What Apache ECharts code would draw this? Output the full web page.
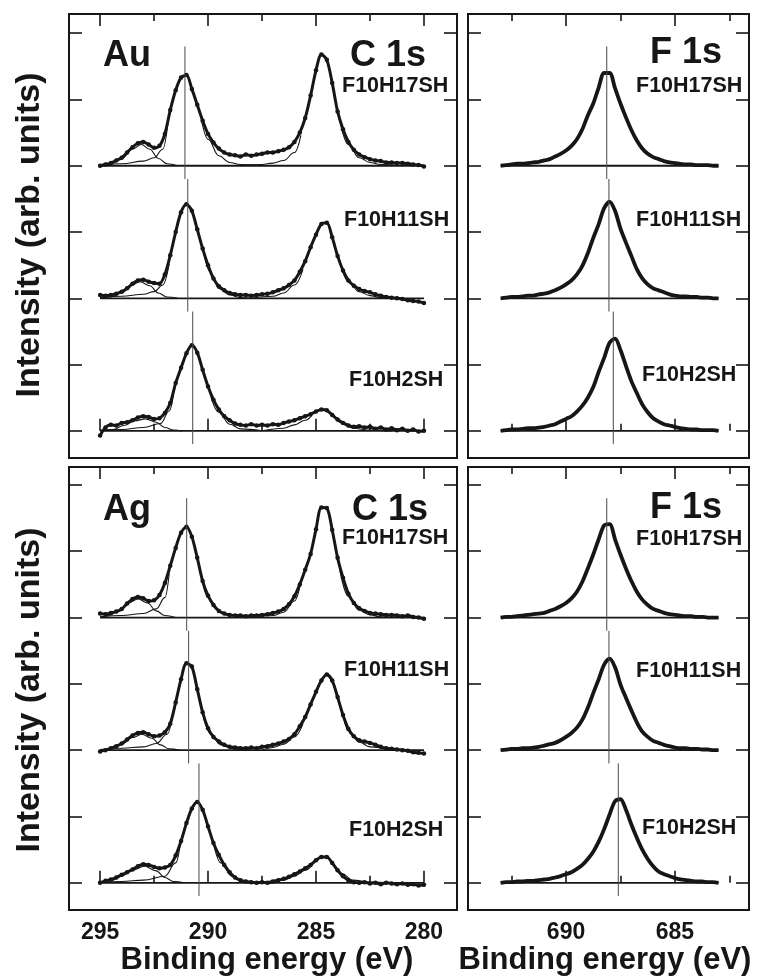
<!DOCTYPE html>
<html>
<head>
<meta charset="utf-8">
<title>XPS C 1s / F 1s</title>
<script src="https://cdn.jsdelivr.net/npm/echarts@6/dist/echarts.min.js"></script>
<style>
    html, body { margin: 0; padding: 0; background: #fff; }
    #main { width: 761px; height: 979px; }
</style>
</head>
<body>
<div id="main"></div>
<script>
    const FONT = "'Liberation Sans', Arial, Helvetica, sans-serif";
    const INK = '#161616';

    // energy grids (eV), one value every 0.25 eV
    const cStart = 295, fStart = 693, step = 0.25;
    const cEnergy = Array.from({length: 61}, (_, i) => +(cStart - i * step).toFixed(2));
    const fEnergy = Array.from({length: 41}, (_, i) => +(fStart - i * step).toFixed(2));

    const offsets = [4, 2, 0];                    // vertical stacking of the three samples
    const sampleNames = ['F10H17SH', 'F10H11SH', 'F10H2SH'];

    // tick values
    const cMajor = [295, 290, 285, 280], cMinor = [292.5, 287.5, 282.5];
    const fMajor = [690, 685], fMinor = [692.5, 687.5, 682.5];
    const yTicks = [0, 1, 2, 3, 4, 5, 6];

    // ---- Au, C 1s (295 -> 280 eV)
    const auC17 = [0.00,0.02,0.04,0.08,0.12,0.20,0.28,0.34,0.36,0.32,
                   0.27,0.30,0.48,0.84,1.14,1.33,1.37,1.16,0.92,0.68,
                   0.48,0.35,0.26,0.20,0.17,0.16,0.14,0.17,0.15,0.17,
                   0.18,0.20,0.20,0.22,0.24,0.28,0.36,0.50,0.72,1.06,
                   1.44,1.68,1.60,1.25,0.82,0.55,0.36,0.24,0.17,0.13,
                   0.10,0.08,0.07,0.05,0.05,0.04,0.04,0.03,0.02,0.01,-0.01];
    const auC11 = [0.05,0.04,0.05,0.07,0.10,0.15,0.22,0.27,0.28,0.25,
                   0.23,0.22,0.36,0.65,1.00,1.30,1.42,1.32,1.04,0.75,
                   0.50,0.30,0.18,0.12,0.08,0.06,0.05,0.05,0.04,0.05,
                   0.06,0.07,0.09,0.12,0.15,0.20,0.27,0.40,0.56,0.77,
                   0.96,1.12,1.14,0.92,0.64,0.42,0.27,0.19,0.14,0.11,
                   0.09,0.06,0.04,0.02,0.01,0.00,-0.01,-0.03,-0.04,-0.05,-0.07];
    const auC2 = [-0.07,0.05,0.09,0.08,0.12,0.13,0.16,0.20,0.22,0.21,
                  0.18,0.19,0.27,0.42,0.72,0.95,1.17,1.29,1.18,0.92,
                  0.67,0.47,0.32,0.22,0.16,0.11,0.09,0.08,0.10,0.08,
                  0.09,0.08,0.10,0.09,0.12,0.14,0.16,0.19,0.22,0.25,
                  0.29,0.32,0.31,0.24,0.17,0.12,0.08,0.06,0.07,0.05,
                  0.06,0.03,0.05,0.02,0.04,0.01,0.03,0.00,0.02,-0.01,0.00];
    // fitted components [eV, intensity]: CF3 hump, CF2 tails, CH2 tails
    const auC17Fit = [
        [[295,0],[294.5,0.03],[294,0.11],[293.5,0.25],[293.1,0.32],[292.7,0.25],[292.3,0.11],[291.9,0.03],[291.4,0]],
        [[295,0.01],[294,0.03],[293,0.07],[292.5,0.12],[292.1,0.25],[291.85,0.66]],
        [[290.3,0.68],[290,0.4],[289.5,0.15],[289,0.05],[288.5,0.02],[287.5,0]],
        [[288.5,0],[287.5,0.02],[287,0.04],[286.5,0.08],[286,0.2],[285.7,0.46]],
        [[283.9,0.68],[283.5,0.32],[283,0.12],[282.5,0.05],[282,0.02],[281,0]]
    ];
    const auC11Fit = [
        [[295,0],[294.5,0.02],[294,0.08],[293.6,0.19],[293.15,0.25],[292.7,0.19],[292.3,0.08],[291.9,0.02],[291.4,0]],
        [[295,0.01],[294,0.03],[293,0.06],[292.5,0.1],[292.1,0.2],[291.8,0.52]],
        [[290.2,0.68],[289.9,0.4],[289.5,0.15],[289,0.05],[288.5,0.01],[288,0]],
        [[288,0],[287,0.03],[286.5,0.08],[286,0.2],[285.6,0.44]],
        [[283.8,0.44],[283.5,0.25],[283,0.1],[282.5,0.04],[282,0.01],[281,0]]
    ];
    const auC2Fit = [
        [[295,0],[294.4,0.02],[293.9,0.08],[293.4,0.15],[292.9,0.18],[292.4,0.13],[292,0.05],[291.6,0.01],[291.2,0]],
        [[295,0.01],[294,0.02],[293,0.05],[292.2,0.11],[291.8,0.3],[291.6,0.55]],
        [[289.9,0.55],[289.5,0.28],[289,0.1],[288.5,0.03],[287.5,0]],
        [[287.5,0],[286.5,0.04],[286,0.09],[285.5,0.16],[285.2,0.23]],
        [[284.1,0.2],[283.8,0.12],[283.3,0.04],[282.5,0.01],[281.5,0]]
    ];

    // ---- Ag, C 1s
    const agC17 = [0.06,0.05,0.07,0.09,0.13,0.21,0.28,0.31,0.29,0.25,
                   0.26,0.34,0.52,0.78,1.05,1.28,1.37,1.22,0.90,0.55,
                   0.33,0.19,0.10,0.06,0.04,0.03,0.03,0.02,0.03,0.03,
                   0.04,0.05,0.07,0.09,0.13,0.20,0.32,0.50,0.72,0.96,
                   1.33,1.66,1.65,1.32,0.90,0.60,0.36,0.22,0.14,0.10,
                   0.07,0.06,0.05,0.04,0.04,0.03,0.02,0.03,0.01,0.00,-0.02];
    const agC11 = [-0.02,0.00,0.03,0.06,0.10,0.16,0.22,0.26,0.27,0.24,
                   0.21,0.22,0.27,0.40,0.72,1.07,1.31,1.26,0.92,0.57,
                   0.33,0.20,0.13,0.08,0.05,0.04,0.03,0.03,0.04,0.03,
                   0.05,0.06,0.08,0.10,0.13,0.17,0.24,0.36,0.50,0.69,
                   0.88,1.05,1.14,1.05,0.80,0.53,0.32,0.21,0.15,0.13,
                   0.11,0.08,0.05,0.03,0.02,0.01,0.00,-0.01,-0.03,-0.04,-0.05];
    const agC2 = [0.00,0.03,0.05,0.08,0.12,0.16,0.20,0.25,0.28,0.27,
                  0.24,0.22,0.23,0.27,0.41,0.63,0.90,1.12,1.22,1.10,
                  0.85,0.60,0.42,0.27,0.16,0.08,0.04,0.02,0.01,0.00,
                  0.01,0.00,0.02,0.04,0.06,0.09,0.13,0.17,0.22,0.27,
                  0.34,0.39,0.39,0.30,0.19,0.10,0.04,0.01,0.00,0.01,
                  -0.01,0.00,-0.02,0.00,-0.01,-0.02,-0.01,-0.03,-0.02,-0.04,-0.03];
    const agC17Fit = [
        [[295,0],[294.6,0.03],[294.1,0.11],[293.7,0.22],[293.24,0.28],[292.8,0.22],[292.4,0.1],[292,0.03],[291.5,0]],
        [[295,0.01],[294,0.03],[293,0.06],[292.4,0.13],[292,0.3],[291.8,0.66]],
        [[290.3,0.6],[290,0.3],[289.6,0.12],[289,0.03],[288,0]],
        [[288,0],[287,0.03],[286.5,0.08],[286,0.25],[285.75,0.46]],
        [[283.9,0.72],[283.5,0.32],[283,0.11],[282.5,0.04],[282,0.01],[281,0]]
    ];
    const agC11Fit = [
        [[295,0],[294.5,0.02],[294,0.09],[293.5,0.19],[293.07,0.24],[292.6,0.18],[292.2,0.08],[291.8,0.02],[291.3,0]],
        [[295,0.01],[294,0.03],[293,0.05],[292.4,0.1],[291.9,0.24],[291.65,0.5]],
        [[290.2,0.48],[289.9,0.26],[289.4,0.08],[288.8,0.02],[288,0]],
        [[287.5,0],[287,0.04],[286.5,0.09],[286,0.2],[285.6,0.4]],
        [[283.7,0.45],[283.5,0.3],[283,0.12],[282.5,0.05],[281.5,0]]
    ];
    const agC2Fit = [
        [[295,0],[294.5,0.03],[294,0.1],[293.5,0.19],[292.95,0.25],[292.4,0.18],[292,0.08],[291.6,0.02],[291.1,0]],
        [[295,0.01],[294,0.02],[293,0.04],[292,0.1],[291.5,0.3],[291.3,0.55]],
        [[289.7,0.52],[289.4,0.3],[288.9,0.1],[288.3,0.02],[287.5,0]],
        [[287.5,0],[286.5,0.04],[286,0.1],[285.5,0.19],[285.2,0.26]],
        [[284.1,0.22],[283.8,0.14],[283.3,0.04],[282.5,0.01],[281.5,0]]
    ];

    // ---- F 1s (693 -> 683 eV)
    const auF17 = [0.00,0.01,0.02,0.03,0.03,0.04,0.05,0.06,0.08,0.10,
                   0.14,0.18,0.23,0.30,0.40,0.55,0.76,0.94,1.18,1.40,
                   1.40,1.17,0.94,0.73,0.54,0.38,0.26,0.18,0.13,0.10,
                   0.07,0.05,0.04,0.03,0.02,0.02,0.01,0.01,0.01,0.00,0.00];
    const auF11 = [0.00,0.01,0.02,0.02,0.03,0.04,0.04,0.06,0.07,0.09,
                   0.12,0.16,0.21,0.27,0.36,0.49,0.68,0.91,1.12,1.36,
                   1.46,1.32,1.05,0.84,0.64,0.44,0.30,0.21,0.15,0.12,
                   0.09,0.06,0.04,0.03,0.03,0.02,0.02,0.01,0.01,0.00,0.00];
    const auF2 = [0.00,0.01,0.02,0.02,0.03,0.04,0.04,0.05,0.06,0.08,
                  0.10,0.14,0.18,0.22,0.29,0.38,0.50,0.66,0.89,1.10,
                  1.33,1.39,1.22,0.98,0.75,0.57,0.40,0.28,0.19,0.14,
                  0.10,0.08,0.06,0.04,0.03,0.02,0.02,0.01,0.01,0.01,0.00];
    const agF17 = [0.00,0.01,0.01,0.02,0.03,0.04,0.05,0.06,0.07,0.10,
                   0.13,0.17,0.22,0.29,0.39,0.54,0.74,0.95,1.18,1.39,
                   1.41,1.18,0.95,0.74,0.55,0.39,0.27,0.19,0.13,0.10,
                   0.07,0.05,0.04,0.03,0.02,0.02,0.01,0.01,0.00,0.00,0.00];
    const agF11 = [0.00,0.01,0.02,0.02,0.03,0.03,0.04,0.05,0.07,0.09,
                   0.11,0.15,0.20,0.26,0.34,0.46,0.64,0.86,1.07,1.29,
                   1.38,1.25,0.99,0.79,0.60,0.42,0.28,0.20,0.14,0.11,
                   0.08,0.06,0.04,0.03,0.03,0.02,0.02,0.01,0.01,0.00,0.00];
    const agF2 = [0.00,0.01,0.01,0.02,0.02,0.03,0.03,0.04,0.05,0.06,
                  0.08,0.10,0.13,0.16,0.21,0.27,0.36,0.47,0.62,0.81,
                  1.03,1.23,1.26,1.10,0.88,0.68,0.50,0.36,0.25,0.17,
                  0.13,0.10,0.07,0.05,0.04,0.03,0.02,0.02,0.01,0.01,0.00];

    // peak reference lines (eV)
    const auCPeak = [291.07, 290.94, 290.71];
    const agCPeak = [290.99, 290.90, 290.42];
    const auFPeak = [688.13, 688.03, 687.83];
    const agFPeak = [688.13, 688.03, 687.60];

    // ---- layout: four framed panels
    const grids = [
        {left: 69,  top: 14,  width: 388, height: 444},
        {left: 468, top: 14,  width: 281, height: 444},
        {left: 69,  top: 467, width: 388, height: 443},
        {left: 468, top: 467, width: 281, height: 443}
    ];
    const xRange = [[278.47, 296.44], [681.6, 694.5], [278.47, 296.44], [681.6, 694.5]];
    const yRange = [[-0.41, 6.29], [-0.41, 6.29], [-0.41, 6.27], [-0.41, 6.27]];

    const tickStyle = {color: INK, width: 1.6};

    let xAxes = [], yAxes = [];
    grids.forEach((gr, g) => {
        const isC = g % 2 === 0;
        const major = isC ? cMajor : fMajor, minor = isC ? cMinor : fMinor;
        const base = {
            gridIndex: g, type: 'value', min: xRange[g][0], max: xRange[g][1], inverse: true,
            axisLine: {show: false}, splitLine: {show: false}, axisLabel: {show: false}
        };
        const showLabels = g >= 2;
        xAxes.push(Object.assign({}, base, {
            position: 'bottom',
            axisTick: {inside: true, length: 12, customValues: major, lineStyle: tickStyle},
            axisLabel: {show: showLabels, customValues: major, margin: 11, color: INK,
                fontSize: 23, fontWeight: 'bold', fontFamily: FONT}
        }));
        xAxes.push(Object.assign({}, base, {
            position: 'bottom',
            axisTick: {inside: true, length: 7, customValues: minor, lineStyle: tickStyle}
        }));
        xAxes.push(Object.assign({}, base, {
            position: 'top',
            axisTick: {inside: true, length: 12, customValues: major, lineStyle: tickStyle}
        }));
        xAxes.push(Object.assign({}, base, {
            position: 'top',
            axisTick: {inside: true, length: 7, customValues: minor, lineStyle: tickStyle}
        }));
        ['left', 'right'].forEach(pos => {
            yAxes.push({
                gridIndex: g, type: 'value', position: pos, min: yRange[g][0], max: yRange[g][1],
                axisLine: {show: false}, splitLine: {show: false}, axisLabel: {show: false},
                axisTick: {inside: true, length: 13, customValues: yTicks, lineStyle: tickStyle}
            });
        });
    });

    let series = [];
    function addPanel(g, energy, sets, fits, peaks, isC) {
        const xi = g * 4, yi = g * 2;
        sets.forEach((vals, k) => {
            const off = offsets[k];
            // baseline
            series.push({
                type: 'line', xAxisIndex: xi, yAxisIndex: yi, silent: true, symbol: 'none', z: 2,
                data: [[energy[0], off], [energy[energy.length - 1], off]],
                lineStyle: {color: INK, width: 1.8}
            });
            // fitted components
            (fits ? fits[k] : []).forEach(c => {
                series.push({
                    type: 'line', xAxisIndex: xi, yAxisIndex: yi, silent: true, symbol: 'none', z: 3,
                    smooth: 0.4, smoothMonotone: 'x',
                    data: c.map(p => [p[0], p[1] + off]),
                    lineStyle: {color: INK, width: 1.1}
                });
            });
            // measured spectrum
            series.push({
                name: sampleNames[k], type: 'line', xAxisIndex: xi, yAxisIndex: yi, z: 4,
                smooth: 0.3,
                symbol: isC ? 'circle' : 'none', symbolSize: 4.5,
                itemStyle: {color: INK},
                data: energy.map((e, i) => [e, vals[i] + off]),
                lineStyle: {color: INK, width: isC ? 3 : 3.8}
            });
            // peak position marker
            series.push({
                type: 'line', xAxisIndex: xi, yAxisIndex: yi, silent: true, symbol: 'none', z: 5,
                data: [[peaks[k], off + 1.8], [peaks[k], off - 0.2]],
                lineStyle: {color: '#4a4a4a', width: 1}
            });
        });
    }
    addPanel(0, cEnergy, [auC17, auC11, auC2], [auC17Fit, auC11Fit, auC2Fit], auCPeak, true);
    addPanel(1, fEnergy, [auF17, auF11, auF2], null, auFPeak, false);
    addPanel(2, cEnergy, [agC17, agC11, agC2], [agC17Fit, agC11Fit, agC2Fit], agCPeak, true);
    addPanel(3, fEnergy, [agF17, agF11, agF2], null, agFPeak, false);

    // ---- text
    function txt(text, x, y, size, align, rot) {
        return {
            type: 'text', x: x, y: y, rotation: rot || 0, silent: true, z: 20,
            style: {text: text, fill: INK, font: 'bold ' + size + 'px ' + FONT,
                textAlign: align || 'left', align: align || 'left',
                textVerticalAlign: 'middle', verticalAlign: 'middle'}
        };
    }
    const graphic = [
        txt('Au', 103, 56, 36), txt('C 1s', 350, 56, 36), txt('F 1s', 650, 53, 36),
        txt('Ag', 103, 510, 36), txt('C 1s', 352, 510, 36), txt('F 1s', 650, 508, 36),
        txt('Binding energy (eV)', 267, 960, 31, 'center'),
        txt('Binding energy (eV)', 605, 960, 31, 'center'),
        txt('Intensity (arb. units)', 30, 235, 34, 'center', Math.PI / 2),
        txt('Intensity (arb. units)', 30, 690, 34, 'center', Math.PI / 2)
    ];
    const labelRows = [[86, 220, 380], [86, 220, 375], [538, 670, 830], [539, 671, 828]];
    const labelX = [[342, 344, 349], [636, 636, 642], [342, 344, 349], [636, 636, 642]];
    labelRows.forEach((rows, g) => {
        rows.forEach((y, k) => graphic.push(txt(sampleNames[k], labelX[g][k], y, 21.5)));
    });

    const chart = echarts.init(document.getElementById('main'), null, {renderer: 'canvas'});
    chart.setOption({
        animation: false,
        backgroundColor: '#fff',
        grid: grids.map(gr => Object.assign({show: true, borderColor: INK, borderWidth: 2,
            backgroundColor: 'transparent', containLabel: false}, gr)),
        xAxis: xAxes,
        yAxis: yAxes,
        series: series,
        graphic: graphic
    });
</script>
</body>
</html>
